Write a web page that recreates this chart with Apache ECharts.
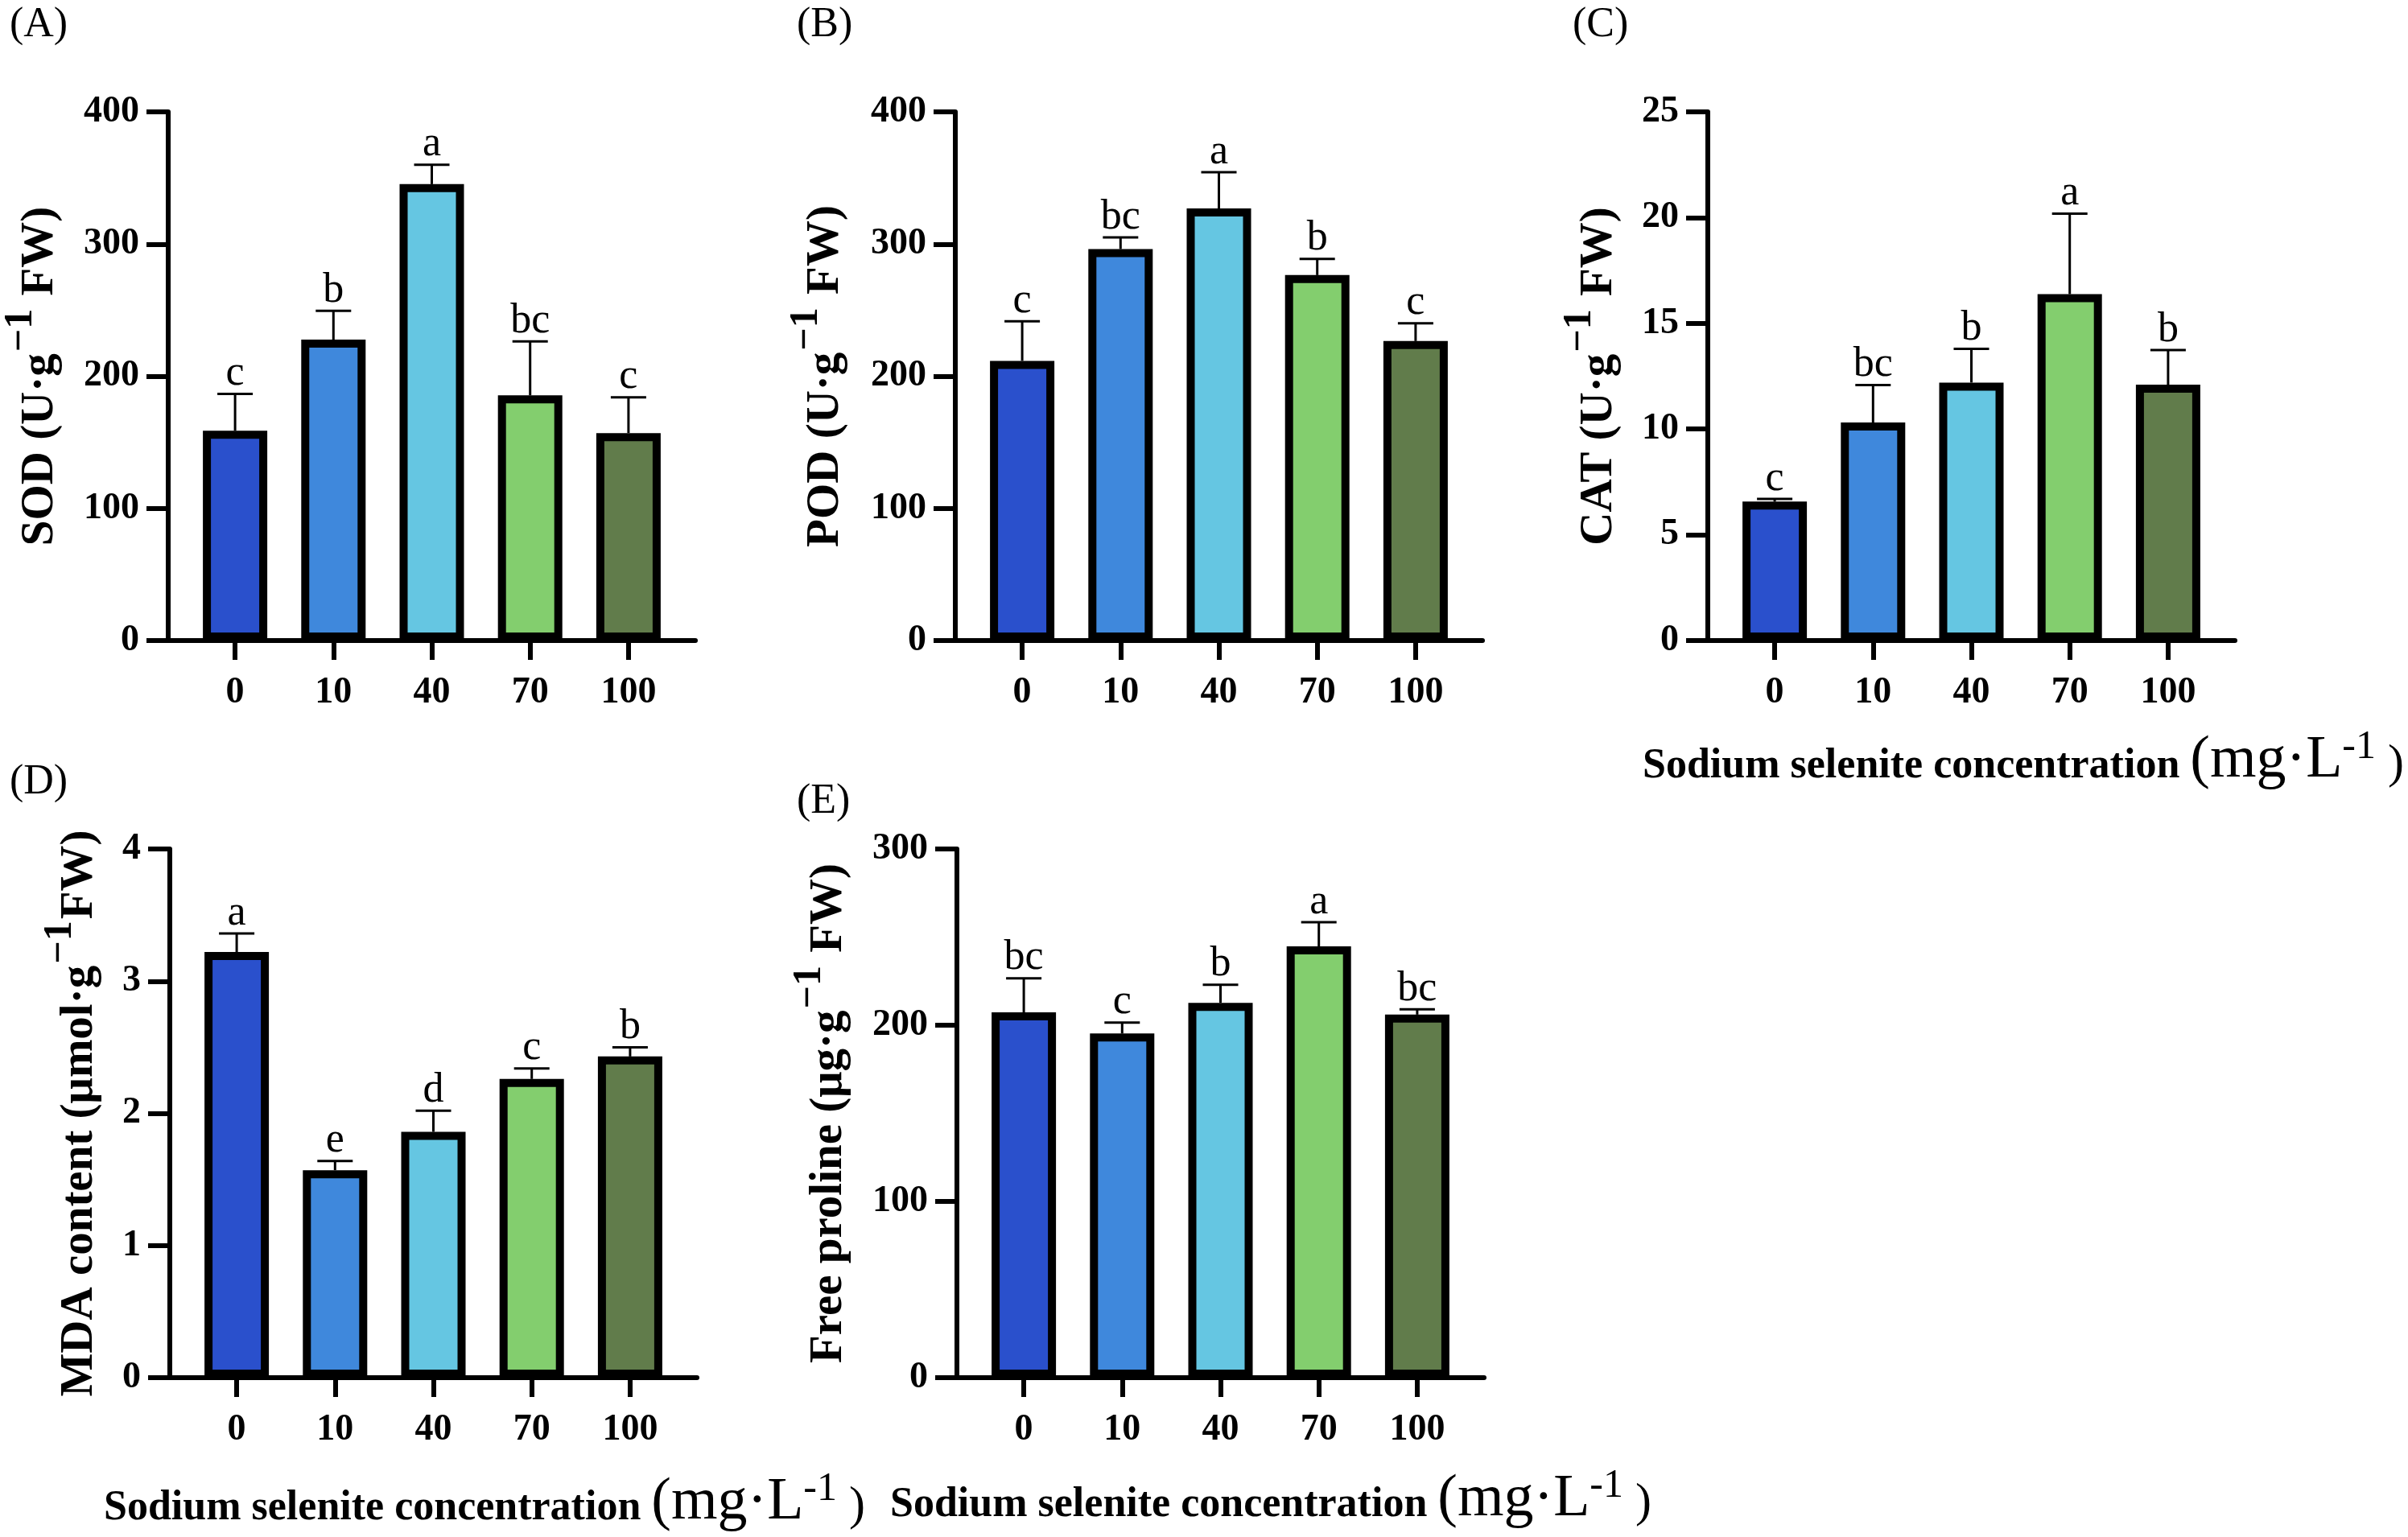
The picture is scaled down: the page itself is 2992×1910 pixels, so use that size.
<!DOCTYPE html>
<html>
<head>
<meta charset="utf-8">
<title>Sodium selenite - antioxidant indices</title>
<script src="https://cdn.jsdelivr.net/npm/echarts@6.0.0/dist/echarts.min.js"></script>
<style>
  html, body { margin: 0; padding: 0; background: #fff; }
  #chart { width: 2992px; height: 1910px; }
</style>
</head>
<body>
<div id="chart"></div>
<script>
// categories (sodium selenite, mg/L)
const concentrations = ['0', '10', '40', '70', '100'];

// (A) SOD
const sodMean = [158.7, 227.7, 345.3, 185.5, 157];
const sodSd = [27.9, 21.8, 14.7, 40.8, 27];
const sodLetters = ['c', 'b', 'a', 'bc', 'c'];
// (B) POD
const podMean = [211.6, 296.2, 326.9, 276.5, 226.6];
const podSd = [30, 8.8, 27.4, 12.2, 13.4];
const podLetters = ['c', 'bc', 'a', 'b', 'c'];
// (C) CAT
const catMean = [6.57, 10.31, 12.2, 16.38, 12.1];
const catSd = [0.13, 1.77, 1.59, 3.81, 1.64];
const catLetters = ['c', 'bc', 'b', 'a', 'b'];
// (D) MDA
const mdaMean = [3.22, 1.57, 1.86, 2.26, 2.43];
const mdaSd = [0.14, 0.07, 0.16, 0.08, 0.07];
const mdaLetters = ['a', 'e', 'd', 'c', 'b'];
// (E) free proline
const proMean = [207.3, 195.3, 212.7, 244.7, 206];
const proSd = [19.3, 6.2, 10.3, 13.7, 3];
const proLetters = ['bc', 'c', 'b', 'a', 'bc'];

// y axis ranges
const yMax = [400, 400, 25, 4, 300];
const yStep = [100, 100, 5, 1, 100];

const yTitles = [
  '{t|SOD (U·g}{s|−1}{t| FW)}',
  '{t|POD (U·g}{s|−1}{t| FW)}',
  '{t|CAT (U·g}{s|−1}{t| FW)}',
  '{t|MDA content (μmol·g}{s|−1}{t|FW)}',
  '{t|Free proline (μg·g}{s|−1}{t| FW)}'
];
const panelTags = ['(A)', '(B)', '(C)', '(D)', '(E)'];
const xTitle = '{b|Sodium selenite concentration }{m|(mg·L}{s|-1}{p| )}';

const barColors = ['#2a50cc', '#3f88dc', '#65c6e2', '#83ce6e', '#617c4b'];
const SERIF = '"Liberation Serif", "Times New Roman", serif';

const panels = [
  { mean: sodMean, sd: sodSd, letters: sodLetters, left: 209, top: 139, gap: 119 },
  { mean: podMean, sd: podSd, letters: podLetters, left: 1187, top: 139, gap: 121 },
  { mean: catMean, sd: catSd, letters: catLetters, left: 2122, top: 139, gap: 95 },
  { mean: mdaMean, sd: mdaSd, letters: mdaLetters, left: 211, top: 1055, gap: 70 },
  { mean: proMean, sd: proSd, letters: proLetters, left: 1189, top: 1055, gap: 119 }
];

const grid = [], xAxis = [], yAxis = [], series = [];

panels.forEach((p, i) => {
  grid.push({ left: p.left, top: p.top, width: 655, height: 657, outerBoundsMode: 'none' });

  xAxis.push({
    type: 'value', gridIndex: i, min: -0.68, max: 4.68,
    splitLine: { show: false },
    axisLine: { show: true, onZero: false, lineStyle: { color: '#000', width: 6 } },
    axisTick: { show: true, customValues: [0, 1, 2, 3, 4], length: 24, lineStyle: { color: '#000', width: 6 } },
    axisLabel: {
      customValues: [0, 1, 2, 3, 4],
      formatter: v => concentrations[Math.round(v)],
      margin: 42, color: '#000', fontFamily: SERIF, fontWeight: 'bold', fontSize: 46
    }
  });

  yAxis.push({
    type: 'value', gridIndex: i, min: 0, max: yMax[i], interval: yStep[i],
    splitLine: { show: false },
    axisLine: { show: true, onZero: false, lineStyle: { color: '#000', width: 6 } },
    axisTick: { show: true, length: 27, lineStyle: { color: '#000', width: 6 } },
    axisLabel: { margin: 36, color: '#000', fontFamily: SERIF, fontWeight: 'bold', fontSize: 46 },
    name: yTitles[i],
    nameLocation: 'middle',
    nameRotate: 90,
    nameGap: p.gap,
    nameTextStyle: {
      verticalAlign: 'bottom',
      rich: {
        t: { fontFamily: SERIF, fontWeight: 'bold', fontSize: 57, color: '#000', lineHeight: 80 },
        s: { fontFamily: SERIF, fontWeight: 'bold', fontSize: 50, color: '#000', lineHeight: 80, padding: [0, 2, 48, 2] }
      }
    }
  });

  series.push({
    type: 'bar', xAxisIndex: i, yAxisIndex: i,
    barWidth: 80,
    data: p.mean.map((v, k) => ({
      value: [k, v],
      itemStyle: { color: barColors[k], borderColor: '#000', borderWidth: 10 }
    })),
    silent: true, z: 2
  });

  series.push({
    type: 'custom', xAxisIndex: i, yAxisIndex: i, z: 3, silent: true,
    data: p.mean.map((v, k) => [k, v, v + p.sd[k]]),
    renderItem: (params, api) => {
      const base = api.coord([api.value(0), api.value(1)]);
      const top = api.coord([api.value(0), api.value(2)]);
      const ls = { stroke: '#000', lineWidth: 3 };
      return {
        type: 'group',
        children: [
          { type: 'line', shape: { x1: base[0], y1: base[1], x2: top[0], y2: top[1] }, style: ls },
          { type: 'line', shape: { x1: top[0] - 22, y1: top[1], x2: top[0] + 22, y2: top[1] }, style: ls },
          {
            type: 'text',
            style: {
              x: top[0], y: top[1] + 1,
              text: p.letters[params.dataIndex],
              align: 'center', verticalAlign: 'bottom',
              font: '52px ' + SERIF, fill: '#000'
            }
          }
        ]
      };
    }
  });
});

const tagPos = [[12, 5], [990, 5], [1954, 5], [12, 946], [990, 970]];
const titlePos = [[2514, 953], [602, 1875], [1579, 1871]];

const graphic = [];
panelTags.forEach((t, i) => {
  graphic.push({
    type: 'text', left: tagPos[i][0], top: tagPos[i][1],
    style: { text: t, font: '52px ' + SERIF, fill: '#000' }
  });
});
titlePos.forEach(pos => {
  graphic.push({
    type: 'text', x: pos[0], y: pos[1],
    style: {
      text: xTitle, align: 'center', verticalAlign: 'middle',
      rich: {
        b: { fontFamily: SERIF, fontWeight: 'bold', fontSize: 52, fill: '#000', lineHeight: 80 },
        m: { fontFamily: SERIF, fontSize: 74, fill: '#000', lineHeight: 80, padding: [0, 0, 15, 0] },
        s: { fontFamily: SERIF, fontSize: 50, fill: '#000', lineHeight: 80, padding: [0, 0, 49, 0] },
        p: { fontFamily: SERIF, fontSize: 60, fill: '#000', lineHeight: 80, padding: [0, 0, 5, 0] }
      }
    }
  });
});

const chart = echarts.init(document.getElementById('chart'), null, { renderer: 'canvas' });
chart.setOption({
  backgroundColor: '#fff',
  animation: false,
  grid, xAxis, yAxis, series, graphic
});
</script>
</body>
</html>
